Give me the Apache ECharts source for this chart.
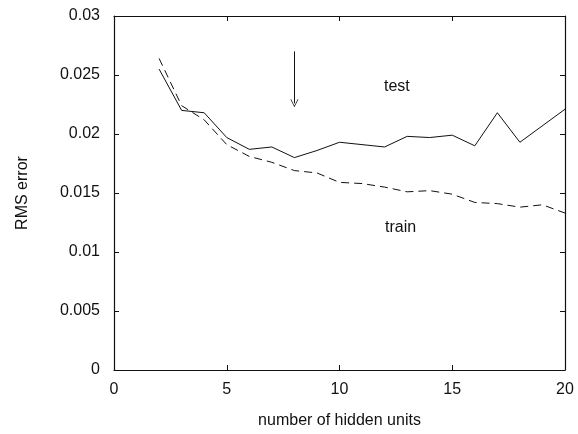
<!DOCTYPE html>
<html>
<head>
<meta charset="utf-8">
<script src="https://cdn.jsdelivr.net/npm/echarts@6/dist/echarts.min.js"></script>
<style>
  html, body { margin: 0; padding: 0; background: #fff; }
  #chart { width: 578px; height: 434px; }
</style>
</head>
<body>
<div id="chart"></div>
<script>
// hidden units on the x axis
const testUnits = [2, 3, 4, 5, 6, 7, 8, 9, 10, 12, 13, 14, 15, 16, 17, 18, 20];
const testError = [0.0255, 0.0220, 0.0218, 0.0197, 0.0187, 0.0189, 0.0180, 0.0186, 0.0193,
                   0.0189, 0.0198, 0.0197, 0.0199, 0.0190, 0.0218, 0.0193, 0.0221];
const trainUnits = [2, 3, 4, 5, 6, 7, 8, 9, 10, 11, 12, 13, 14, 15, 16, 17, 18, 19, 20];
const trainError = [0.0264, 0.0224, 0.0212, 0.0191, 0.0181, 0.0176, 0.0169, 0.0167, 0.0159,
                    0.0158, 0.0155, 0.0151, 0.0152, 0.0149, 0.0142, 0.0141, 0.0138, 0.0140, 0.0133];
const arrowAt = 8;
const arrowFrom = 0.0270;
const arrowTo = 0.0226;

const font = 'Liberation Sans, Arial, sans-serif';
const ink = '#111';

const chart = echarts.init(document.getElementById('chart'));

const axisCommon = {
  axisLine: { show: true, onZero: false, lineStyle: { color: ink, width: 1.2 } },
  axisTick: { show: true, inside: true, length: 5, lineStyle: { color: ink } },
  splitLine: { show: false },
  axisLabel: { color: ink, fontFamily: font, fontSize: 16 }
};

const option = {
  animation: false,
  backgroundColor: '#fff',
  grid: { left: 114, right: 13, top: 16, bottom: 62 },
  xAxis: [
    Object.assign({}, axisCommon, {
      type: 'value', min: 0, max: 20, interval: 5,
      name: 'number of hidden units', nameLocation: 'middle', nameGap: 43,
      nameTextStyle: { color: ink, fontFamily: font, fontSize: 16 },
      axisLabel: Object.assign({}, axisCommon.axisLabel, { margin: 12 })
    }),
    Object.assign({}, axisCommon, {
      type: 'value', min: 0, max: 20, interval: 5, position: 'top',
      axisLabel: { show: false }
    })
  ],
  yAxis: [
    Object.assign({}, axisCommon, {
      type: 'value', min: 0, max: 0.03, interval: 0.005,
      name: 'RMS error', nameLocation: 'middle', nameGap: 83,
      nameTextStyle: { color: ink, fontFamily: font, fontSize: 16 },
      axisLabel: Object.assign({}, axisCommon.axisLabel, { margin: 14 })
    }),
    Object.assign({}, axisCommon, {
      type: 'value', min: 0, max: 0.03, interval: 0.005, position: 'right',
      axisLabel: { show: false }
    })
  ],
  series: [
    {
      name: 'test', type: 'line', xAxisIndex: 0, yAxisIndex: 0,
      data: testUnits.map((u, i) => [u, testError[i]]),
      showSymbol: false, symbol: 'none',
      lineStyle: { color: ink, width: 1 },
      markLine: {
        silent: true,
        symbol: ['none', 'path://M5,0 L10,10 L9,10 L5,2 L1,10 L0,10 Z'],
        symbolSize: [8, 8],
        label: { show: false },
        lineStyle: { color: ink, width: 1, type: 'solid' },
        data: [[{ coord: [arrowAt, arrowFrom] }, { coord: [arrowAt, arrowTo] }]]
      }
    },
    {
      name: 'train', type: 'line', xAxisIndex: 0, yAxisIndex: 0,
      data: trainUnits.map((u, i) => [u, trainError[i]]),
      showSymbol: false, symbol: 'none',
      lineStyle: { color: ink, width: 1, type: [8, 5] }
    }
  ],
  graphic: [
    { type: 'text', left: 384, top: 79, style: { text: 'test', fill: ink, font: '16px ' + font } },
    { type: 'text', left: 385, top: 220, style: { text: 'train', fill: ink, font: '16px ' + font } }
  ]
};

chart.setOption(option);
</script>
</body>
</html>
